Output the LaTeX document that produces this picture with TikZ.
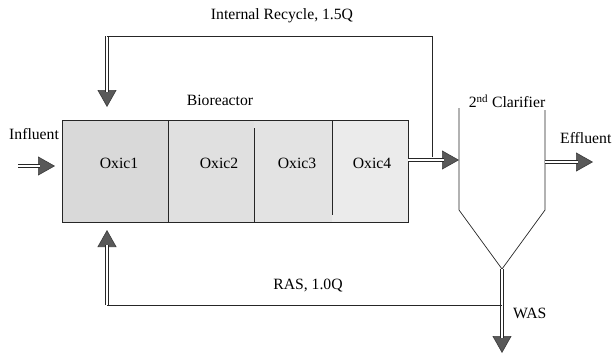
\documentclass[tikz,border=0pt]{standalone}
\usepackage{fontspec}
\setmainfont{Liberation Serif}
\usetikzlibrary{arrows.meta}
\begin{document}
\begin{tikzpicture}[x=1pt,y=-1pt,
  pipe/.style={draw=black!85, double=white, double distance=2pt, line width=0.8pt, shorten >=15pt},
  thin line/.style={draw=black!85, line width=0.7pt},
  head/.style={draw=black!75, line width=0.7pt, -{Triangle[width=19pt,length=17pt,fill=black!65,color=black!75]}},
  lbl/.style={font=\fontsize{15.7}{18}\selectfont, inner sep=0pt, text=black}]
\useasboundingbox (0,0) rectangle (612,354);
% bioreactor zones
\fill[black!15] (62,120) rectangle (168,222);
\fill[black!12] (168,120) rectangle (254,222);
\fill[black!11] (254,120) rectangle (332,222);
\fill[black!8] (332,120) rectangle (408,222);
\draw[thin line] (62,120) rectangle (408,222);
\draw[thin line] (168,120) -- (168,222);
\draw[thin line] (254,128) -- (254,222);
\draw[thin line] (332,120) -- (332,215);
\node[lbl] (o1) at (119,163) {Oxic1};
\node[lbl] (o2) at (219,163) {Oxic2};
\node[lbl] (o3) at (297,163) {Oxic3};
\node[lbl] (o4) at (372,163) {Oxic4};
\node[lbl] (bio) at (220,100) {Bioreactor};
% clarifier
\coordinate (cl) at (459,108);
\coordinate (cr) at (545,110);
\coordinate (apex) at (502,269);
\draw[thin line] (cl) -- (459,210) -- (apex) -- (545,210) -- (cr);
\node[lbl] (clar) at (507,101) {2\textsuperscript{nd} Clarifier};
% coordinates
\coordinate (inA) at (18,166);
\coordinate (inB) at (55,166);
\coordinate (outR) at (408,160);
\coordinate (clIn) at (459,160);
\coordinate (effA) at (545,162);
\coordinate (effB) at (593,162);
\coordinate (irR) at (432,157);
\coordinate (irTR) at (432,36);
\coordinate (irTL) at (107,36);
\coordinate (irEnd) at (107,107);
\coordinate (rasR) at (502,305);
\coordinate (rasL) at (107,305);
\coordinate (rasEnd) at (107,230);
\coordinate (wasEnd) at (502,353);
% flows: arrow heads first, then double shafts on top
\foreach \a/\b in {inA/inB, outR/clIn, effA/effB, irTL/irEnd, rasL/rasEnd, apex/wasEnd}{
  \draw[head] (\a) -- (\b);
  \draw[pipe] (\a) -- (\b);
}
\draw[thin line] (irR) -- (irTR) -- (irTL);
\draw[thin line] (rasR) -- (rasL);
% labels
\node[lbl] (ir) at (282,16) {Internal Recycle, 1.5Q};
\node[lbl] (ras) at (308,286) {RAS, 1.0Q};
\node[lbl, anchor=west] (was) at (513,313) {WAS};
\node[lbl, anchor=west] (inf) at (9,134) {Influent};
\node[lbl, anchor=west] (eff) at (560,138) {Effluent};
\end{tikzpicture}
\end{document}
